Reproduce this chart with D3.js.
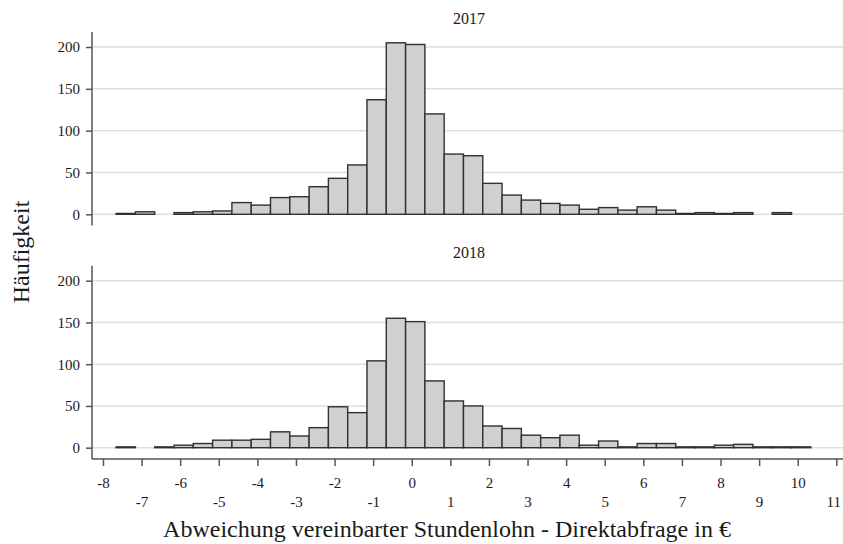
<!DOCTYPE html>
<html>
<head>
<meta charset="utf-8">
<script src="https://cdn.jsdelivr.net/npm/d3@7"></script>
<style>
  body { margin: 0; background: #fff; }
  svg text { font-family: "Liberation Serif", "DejaVu Serif", serif; fill: #1a1a1a; }
</style>
</head>
<body>
<svg id="chart" width="843" height="544"></svg>
<script>
'use strict';
// histogram bins are half a euro wide, first one starts at -7.66
const binStart = -7.66;
const binWidth = 0.5;
const counts2017 = [1, 3, 0, 2, 3, 4, 14, 11, 20, 21, 33, 43, 59, 137, 205, 203, 120, 72,
  70, 37, 23, 17, 13, 11, 6, 8, 5, 9, 5, 1, 2, 1, 2, 0, 2, 0];
const counts2018 = [1, 0, 1, 3, 5, 9, 9, 10, 19, 14, 24, 49, 42, 104, 155, 151, 80, 56,
  50, 26, 23, 15, 12, 15, 3, 8, 1, 5, 5, 1, 1, 3, 4, 1, 1, 1];
const years = ['2017', '2018'];
const yTicks = [0, 50, 100, 150, 200];
const xTicks = [-8, -7, -6, -5, -4, -3, -2, -1, 0, 1, 2, 3, 4, 5, 6, 7, 8, 9, 10, 11];

const svg = d3.select('#chart');
const W = 843;
const left = 92; // y axis position

const x = d3.scaleLinear().domain([-8, 11]).range([103, 836.3]);

// one panel per year, stacked
const panels = [
  { year: years[0], counts: counts2017, top: 47, bottom: 214.3 },
  { year: years[1], counts: counts2018, top: 280.7, bottom: 447.7 },
];

panels.forEach((p, pi) => {
  const y = d3.scaleLinear().domain([0, 200]).range([p.bottom, p.top]);
  const g = svg.append('g');

  // gridlines
  g.selectAll('.grid')
    .data(yTicks)
    .join('line')
    .attr('x1', left).attr('x2', W)
    .attr('y1', (d) => y(d)).attr('y2', (d) => y(d))
    .attr('stroke', '#dedede')
    .attr('stroke-width', 1.5);

  // bars
  const bins = p.counts.map((c, i) => ({
    x0: binStart + i * binWidth,
    x1: binStart + (i + 1) * binWidth,
    c: c,
  })).filter((d) => d.c > 0);

  g.selectAll('.bar')
    .data(bins)
    .join('rect')
    .attr('x', (d) => x(d.x0))
    .attr('width', (d) => x(d.x1) - x(d.x0))
    .attr('y', (d) => y(d.c))
    .attr('height', (d) => y(0) - y(d.c))
    .attr('fill', '#d0d0d0')
    .attr('stroke', '#303030')
    .attr('stroke-width', 1.4);

  // y axis
  const ya = g.append('g')
    .attr('transform', `translate(${left},0)`)
    .call(d3.axisLeft(y).tickValues(yTicks).tickSize(6).tickPadding(6));
  ya.select('.domain').remove();
  ya.selectAll('line').attr('stroke', '#555').attr('stroke-width', 1.5);
  ya.selectAll('text').attr('font-size', 15).attr('font-family', null);
  g.append('line')
    .attr('x1', left).attr('x2', left)
    .attr('y1', y(200) - 15).attr('y2', y(0) + 11.3)
    .attr('stroke', '#555')
    .attr('stroke-width', 1.5);

  // panel title
  g.append('text')
    .attr('x', 469)
    .attr('y', y(200) - 23)
    .attr('text-anchor', 'middle')
    .attr('font-size', 16)
    .text(p.year);

  // x axis only under the last panel
  if (pi === panels.length - 1) {
    const axY = y(0) + 11.3;
    g.append('line')
      .attr('x1', left).attr('x2', W)
      .attr('y1', axY).attr('y2', axY)
      .attr('stroke', '#555')
      .attr('stroke-width', 1.5);
    const xa = g.append('g')
      .attr('transform', `translate(0,${axY})`)
      .call(d3.axisBottom(x).tickValues(xTicks).tickSize(7).tickPadding(0)
        .tickFormat((d) => String(d))); // plain hyphen like the original
    xa.select('.domain').remove();
    xa.selectAll('line').attr('stroke', '#555').attr('stroke-width', 1.5);
    xa.selectAll('text')
      .attr('font-size', 15)
      .attr('font-family', null)
      .attr('dy', null)
      .attr('dx', (d) => (d === 11 ? -3 : 0)) // keep the last label inside the frame
      .attr('y', (d) => (d % 2 === 0 ? 29 : 48));
  }
});

// axis titles
svg.append('text')
  .attr('x', 447)
  .attr('y', 537)
  .attr('text-anchor', 'middle')
  .attr('font-size', 24)
  .text('Abweichung vereinbarter Stundenlohn - Direktabfrage in €');

svg.append('text')
  .attr('transform', 'translate(29,252) rotate(-90)')
  .attr('text-anchor', 'middle')
  .attr('font-size', 24)
  .text('Häufigkeit');
</script>
</body>
</html>
